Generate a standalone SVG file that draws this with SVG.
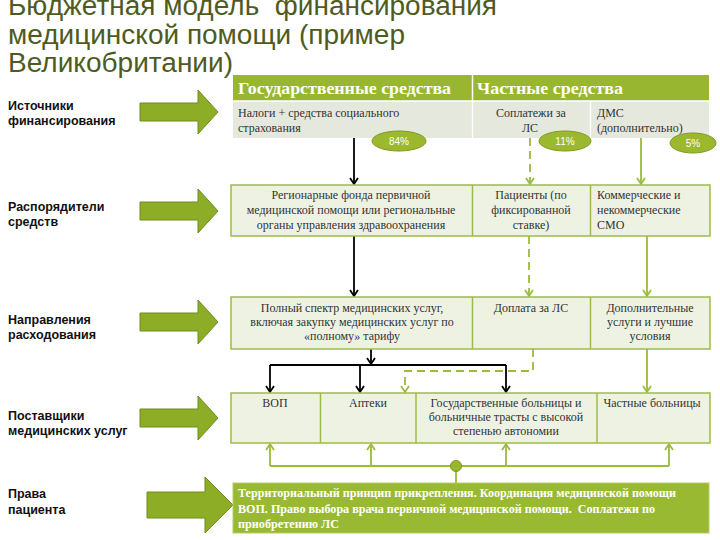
<svg xmlns="http://www.w3.org/2000/svg" width="720" height="540" viewBox="0 0 720 540">
<style>
.title{font-family:"Liberation Sans",Arial,sans-serif;font-size:27px;fill:#4F5B1E}
.lbl{font-family:"Liberation Sans",Arial,sans-serif;font-size:12.5px;font-weight:bold;fill:#111}
.hdr{font-family:"Liberation Serif","Times New Roman",serif;font-size:17px;font-weight:bold;fill:#fff}
.t{font-family:"Liberation Serif","Times New Roman",serif;font-size:12px;fill:#333}
.tc{font-family:"Liberation Serif","Times New Roman",serif;font-size:12px;fill:#333;text-anchor:middle}
.bt{font-family:"Liberation Serif","Times New Roman",serif;font-size:12px;font-weight:bold;fill:#fff}
.pct{font-family:"Liberation Sans",Arial,sans-serif;font-size:10px;fill:#fff;text-anchor:middle}
.box{fill:#EEF2E3;stroke:#9DBB48;stroke-width:1.5}
.div{stroke:#9DBB48;stroke-width:1.5}
.oval{fill:#9CB82F;stroke:#7E9A22;stroke-width:1}
.big{fill:#8DAD27;stroke:#6F8C1C;stroke-width:1}
.blk{fill:none;stroke:#000;stroke-width:1.8}
.grn{fill:none;stroke:#9BBB3B;stroke-width:1.8}
.dash{stroke-dasharray:8,5}
</style>
<defs>
<marker id="ab" markerUnits="userSpaceOnUse" markerWidth="12" markerHeight="12" viewBox="-8 -6 10 12" refX="0" refY="0" orient="auto">
<path d="M-6,-4 L0,0 L-6,4" fill="none" stroke="#000" stroke-width="1.8"/>
</marker>
<marker id="ag" markerUnits="userSpaceOnUse" markerWidth="12" markerHeight="12" viewBox="-8 -6 10 12" refX="0" refY="0" orient="auto">
<path d="M-6,-4 L0,0 L-6,4" fill="none" stroke="#9BBB3B" stroke-width="1.8"/>
</marker>
<path id="bigarrow" d="M0,-9 H58 V-22 L78,0 L58,22 V9 H0 Z"/>
</defs>

<g id="title">
<text class="title" x="8" y="14.5" xml:space="preserve" textLength="489" lengthAdjust="spacingAndGlyphs">Бюджетная модель  финансирования</text>
<text class="title" x="8" y="43.5" textLength="397" lengthAdjust="spacingAndGlyphs">медицинской помощи (пример</text>
<text class="title" x="8" y="72" textLength="225" lengthAdjust="spacingAndGlyphs">Великобритании)</text>
</g>

<g id="labels">
<g id="lbl-sources"><text class="lbl" x="8" y="110">Источники</text><text class="lbl" x="8" y="125">финансирования</text></g>
<g id="lbl-managers"><text class="lbl" x="8" y="211">Распорядители</text><text class="lbl" x="8" y="226">средств</text></g>
<g id="lbl-directions"><text class="lbl" x="8" y="324">Направления</text><text class="lbl" x="8" y="339">расходования</text></g>
<g id="lbl-providers"><text class="lbl" x="8" y="420">Поставщики</text><text class="lbl" x="8" y="435">медицинских услуг</text></g>
<g id="lbl-rights"><text class="lbl" x="8" y="498">Права</text><text class="lbl" x="8" y="514">пациента</text></g>
</g>

<g id="big-arrows">
<use href="#bigarrow" class="big" transform="translate(140,112)"/>
<use href="#bigarrow" class="big" transform="translate(140,211)"/>
<use href="#bigarrow" class="big" transform="translate(140,322)"/>
<use href="#bigarrow" class="big" transform="translate(140,418)"/>
<path class="big" d="M147,492 H205 V477 L233,505 L205,533 V518 H147 Z"/>
</g>

<g id="sources-table">
<rect x="233" y="75" width="476" height="26" fill="#98B630"/>
<rect x="233" y="101" width="476" height="37" fill="#E5E8DC"/>
<line x1="472.5" y1="75" x2="472.5" y2="138" stroke="#fff" stroke-width="1.5"/>
<line x1="590.5" y1="101" x2="590.5" y2="138" stroke="#fff" stroke-width="1.5"/>
<line x1="233" y1="101" x2="709" y2="101" stroke="#fff" stroke-width="1.5"/>
<text class="hdr" x="238" y="93.5" textLength="213" lengthAdjust="spacingAndGlyphs">Государственные средства</text>
<text class="hdr" x="477" y="93.5" textLength="146" lengthAdjust="spacingAndGlyphs">Частные средства</text>
<text class="t" x="238" y="116.5">Налоги + средства социального</text>
<text class="t" x="238" y="131.5">страхования</text>
<text class="tc" x="531" y="116.5">Соплатежи за</text>
<text class="tc" x="530" y="131.5">ЛС</text>
<text class="t" x="597" y="116.5">ДМС</text>
<text class="t" x="597" y="131.5">(дополнительно)</text>
</g>

<g id="connectors">
<path class="blk" d="M354,138 V184" marker-end="url(#ab)"/>
<path class="blk" d="M354,236 V296" marker-end="url(#ab)"/>
<path class="blk" d="M371,349 V364" marker-end="url(#ab)"/>
<path class="blk" d="M270,365 H506"/>
<path class="blk" d="M270,365 V392" marker-end="url(#ab)"/>
<path class="blk" d="M360,365 V392" marker-end="url(#ab)"/>
<path class="blk" d="M506,365 V392" marker-end="url(#ab)"/>
<path class="grn dash" d="M530,138 V184" marker-end="url(#ag)"/>
<path class="grn dash" d="M529,236 V296" marker-end="url(#ag)"/>
<path class="grn dash" d="M533,349 V371 H405 V392" marker-end="url(#ag)"/>
<path class="grn" d="M641,138 V184" marker-end="url(#ag)"/>
<path class="grn" d="M647,236 V296" marker-end="url(#ag)"/>
<path class="grn" d="M647,349 V392" marker-end="url(#ag)"/>
<path class="grn" d="M456,483 V466"/>
<path class="grn" d="M270,466 H669"/>
<path class="grn" d="M270,466 V444" marker-end="url(#ag)"/>
<path class="grn" d="M371,466 V444" marker-end="url(#ag)"/>
<path class="grn" d="M506,466 V444" marker-end="url(#ag)"/>
<path class="grn" d="M669,466 V444" marker-end="url(#ag)"/>
<circle cx="456" cy="466" r="5.5" fill="#9AB52F" stroke="#7A961F" stroke-width="1"/>
</g>

<g id="shares">
<g id="share-84"><ellipse class="oval" cx="399" cy="141" rx="27" ry="10"/><text class="pct" x="399" y="144.5">84%</text></g>
<g id="share-11"><ellipse class="oval" cx="565" cy="141" rx="26" ry="10"/><text class="pct" x="565" y="144.5">11%</text></g>
<g id="share-5"><ellipse class="oval" cx="693" cy="143" rx="23" ry="10"/><text class="pct" x="693" y="146.5">5%</text></g>
</g>

<g id="managers">
<rect class="box" x="231" y="185" width="479" height="51"/>
<line class="div" x1="472.5" y1="185" x2="472.5" y2="236"/>
<line class="div" x1="590.5" y1="185" x2="590.5" y2="236"/>
<text class="tc" x="351" y="199">Регионарные фонда первичной</text>
<text class="tc" x="351" y="214">медицинской помощи или региональные</text>
<text class="tc" x="351" y="229">органы управления здравоохранения</text>
<text class="tc" x="531" y="199">Пациенты (по</text>
<text class="tc" x="531" y="214">фиксированной</text>
<text class="tc" x="531" y="229">ставке)</text>
<text class="t" x="597" y="199">Коммерческие и</text>
<text class="t" x="597" y="214">некоммерческие</text>
<text class="t" x="597" y="229">СМО</text>
</g>

<g id="directions">
<rect class="box" x="231" y="297" width="479" height="52"/>
<line class="div" x1="472.5" y1="297" x2="472.5" y2="349"/>
<line class="div" x1="590.5" y1="297" x2="590.5" y2="349"/>
<text class="tc" x="352" y="312">Полный спектр медицинских услуг,</text>
<text class="tc" x="352" y="326">включая закупку медицинских услуг по</text>
<text class="tc" x="352" y="340">«полному» тарифу</text>
<text class="tc" x="531" y="312">Доплата за ЛС</text>
<text class="tc" x="650" y="312">Дополнительные</text>
<text class="tc" x="650" y="326">услуги и лучшие</text>
<text class="tc" x="650" y="340">условия</text>
</g>

<g id="providers">
<rect class="box" x="231" y="393" width="479" height="50"/>
<line class="div" x1="320.5" y1="393" x2="320.5" y2="443"/>
<line class="div" x1="416" y1="393" x2="416" y2="443"/>
<line class="div" x1="597" y1="393" x2="597" y2="443"/>
<text class="tc" x="275" y="407">ВОП</text>
<text class="tc" x="368" y="407">Аптеки</text>
<text class="tc" x="506" y="407">Государственные больницы и</text>
<text class="tc" x="506" y="421">больничные трасты с высокой</text>
<text class="tc" x="506" y="435">степенью автономии</text>
<text class="tc" x="652" y="407">Частные больницы</text>
</g>

<g id="rights">
<rect x="233" y="483" width="476" height="50" fill="#9AB932" stroke="#B5CC6A" stroke-width="1"/>
<text class="bt" x="238" y="497" textLength="438" lengthAdjust="spacingAndGlyphs">Территориальный принцип прикрепления. Координация медицинской помощи</text>
<text class="bt" x="238" y="512.5" xml:space="preserve" textLength="417" lengthAdjust="spacingAndGlyphs">ВОП. Право выбора врача первичной медицинской помощи.  Соплатежи по</text>
<text class="bt" x="238" y="528" textLength="101" lengthAdjust="spacingAndGlyphs">приобретению ЛС</text>
</g>
</svg>
